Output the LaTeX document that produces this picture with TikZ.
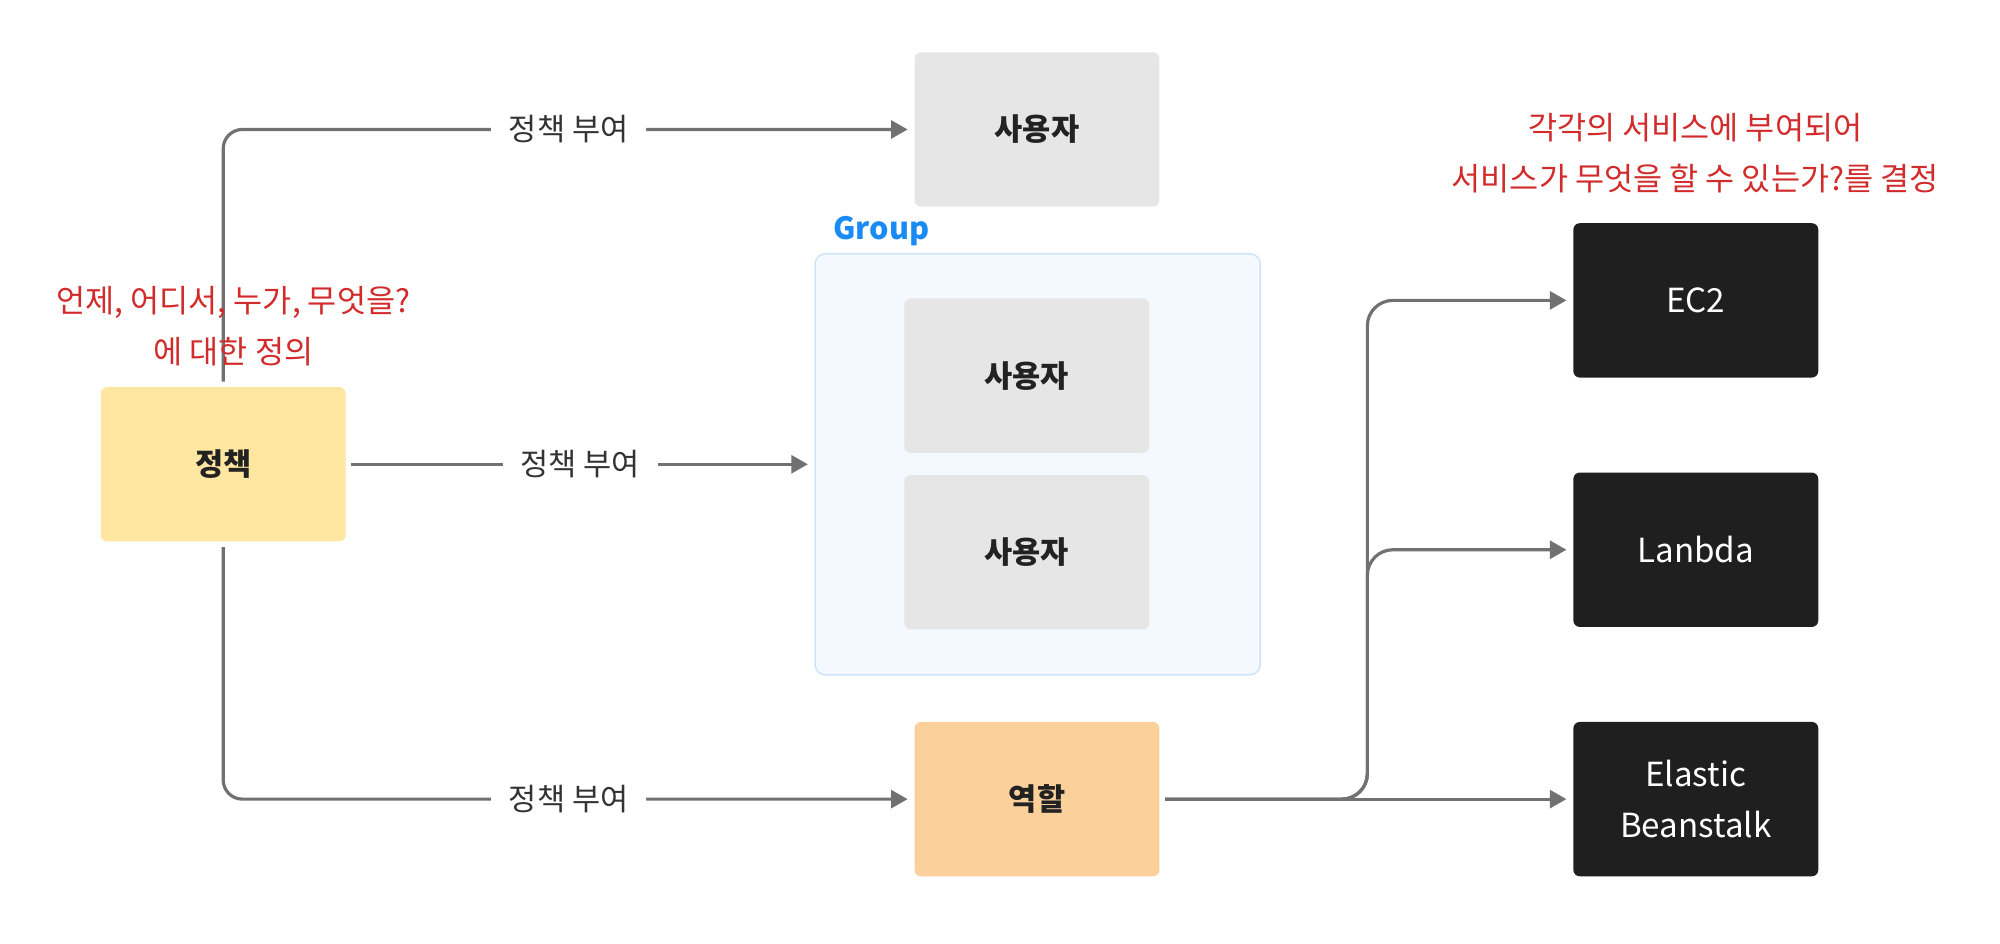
\documentclass[tikz,border=0pt]{standalone}
\usepackage{fontspec}
\setmainfont{Noto Sans CJK KR}
\usetikzlibrary{arrows.meta}
\definecolor{linegray}{HTML}{717171}
\definecolor{usergray}{HTML}{E6E6E6}
\definecolor{groupfill}{HTML}{F4F9FF}
\definecolor{groupdraw}{HTML}{CDE5FA}
\definecolor{groupblue}{HTML}{1A8BF5}
\definecolor{policyyellow}{HTML}{FFE6A1}
\definecolor{roleorange}{HTML}{FCD09B}
\definecolor{darkfill}{HTML}{1F1F1F}
\definecolor{notered}{HTML}{D22B2B}
\definecolor{textdark}{HTML}{222222}
\definecolor{labelc}{HTML}{333333}
\tikzset{
 box/.style={rounded corners=2.5pt, minimum width=96pt, minimum height=60.5pt, inner sep=0pt, font=\fontsize{12}{14}\selectfont\bfseries, text=textdark},
 userbox/.style={box, fill=usergray},
 darkbox/.style={box, fill=darkfill, text=white, font=\fontsize{13}{20}\selectfont, align=center},
 groupbox/.style={rounded corners=4pt, minimum width=174.5pt, minimum height=165pt, inner sep=0pt, fill=groupfill, draw=groupdraw, line width=0.6pt},
 conn/.style={draw=linegray, line width=1.25pt, -{Triangle[length=6.5pt,width=7pt]}, shorten >=2.5pt, shorten <=2pt},
 lbl/.style={fill=white, font=\fontsize{12}{14}\selectfont, text=labelc, inner xsep=7pt, inner ysep=2pt},
 note/.style={text=notered, font=\fontsize{12.4}{20}\selectfont, align=center},
}
\begin{document}
\begin{tikzpicture}[x=0.5pt,y=-0.5pt]
\useasboundingbox[fill=white] (0,0) rectangle (1568,740);
% group container
\node[groupbox] (grp) at (813.5,364) {};
\node[font=\fontsize{12}{14}\selectfont\bfseries, text=groupblue, inner sep=0pt] (glabel) at (691,181) {Group};
% boxes
\node[box, fill=policyyellow] (jc) at (175,364) {정책};
\node[userbox] (user) at (813,101.5) {사용자};
\node[userbox] (gu1) at (805,294.5) {사용자};
\node[userbox] (gu2) at (805,433) {사용자};
\node[box, fill=roleorange] (role) at (813,626.5) {역할};
\node[darkbox] (ec2) at (1329.5,235.5) {EC2};
\node[darkbox] (lam) at (1329.5,431) {Lanbda};
\node[darkbox] (eb) at (1329.5,626.5) {Elastic\\Beanstalk};
% connectors
\draw[conn, rounded corners=7.5pt] (jc.north) |- node[lbl, pos=0.75] {정책 부여} (user.west);
\draw[conn] (jc.east) -- node[lbl] {정책 부여} (grp.west);
\draw[conn, rounded corners=7.5pt] (jc.south) |- node[lbl, pos=0.75] {정책 부여} (role.west);
\coordinate (bx) at (1072,626.5);
\draw[conn] (role.east) -- (eb.west);
\draw[conn, rounded corners=10pt] (role.east) -- (bx) |- (ec2.west);
\draw[conn, rounded corners=10pt] (role.east) -- (bx) |- (lam.west);
% notes
\node[note] (noteL) at (183,256) {언제, 어디서, 누가, 무엇을?\\에 대한 정의};
\node[note] (noteR) at (1329,120) {각각의 서비스에 부여되어\\서비스가 무엇을 할 수 있는가?를 결정};
\end{tikzpicture}
\end{document}
